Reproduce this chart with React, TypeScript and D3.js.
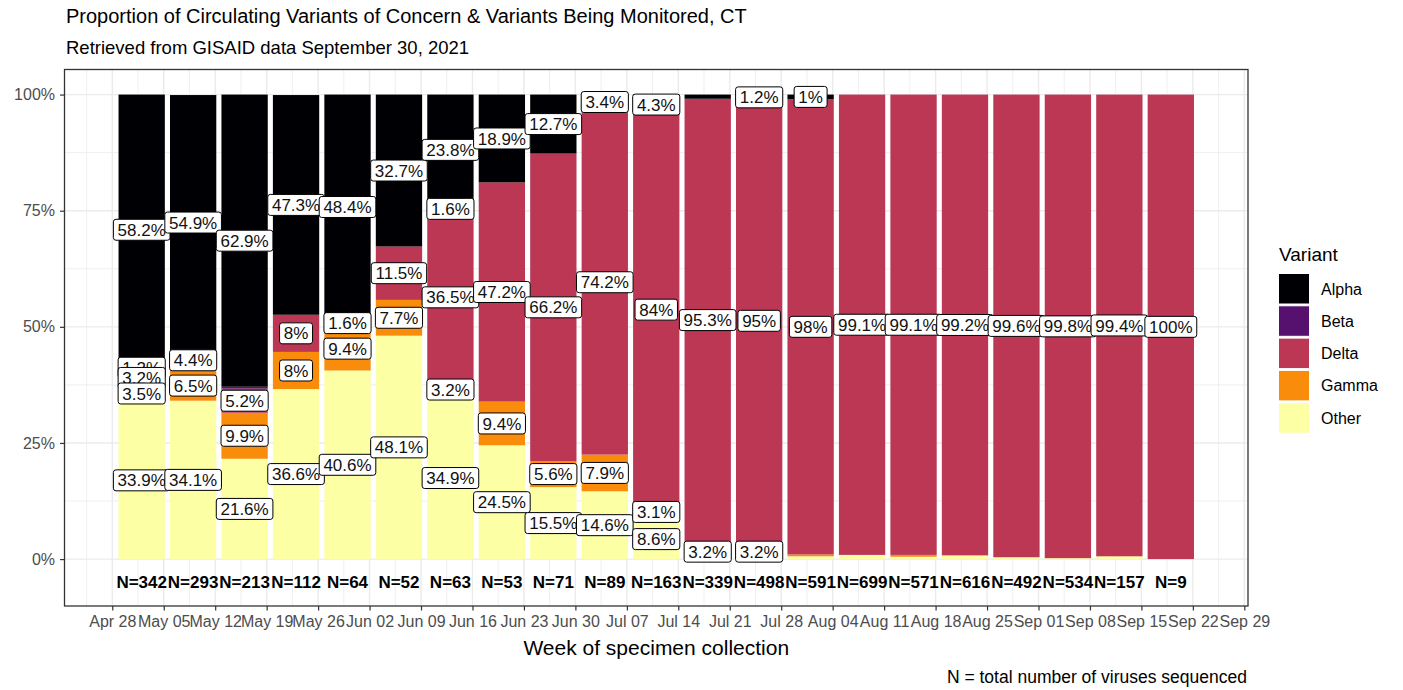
import React, { useRef, useEffect } from 'react';
import * as d3 from 'd3';

/* ─── data (percent of sequenced viruses per week) ─── */
const WEEKS = [
  '2021-05-02', '2021-05-09', '2021-05-16', '2021-05-23', '2021-05-30', '2021-06-06', '2021-06-13',
  '2021-06-20', '2021-06-27', '2021-07-04', '2021-07-11', '2021-07-18', '2021-07-25', '2021-08-01',
  '2021-08-08', '2021-08-15', '2021-08-22', '2021-08-29', '2021-09-05', '2021-09-12', '2021-09-19',
];
const N_SEQ = [342, 293, 213, 112, 64, 52, 63, 53, 71, 89, 163, 339, 498, 591, 699, 571, 616, 492, 534, 157, 9];

const ALPHA = [58.2, 54.9, 62.9, 47.3, 48.4, 32.7, 23.8, 18.9, 12.7, 3.4, 4.3, 0.9, 1.2, 1.0, 0, 0, 0, 0, 0, 0, 0];
const BETA = [1.2, 0, 0.4, 0, 0, 0, 1.6, 0, 0, 0, 0, 0, 0, 0, 0, 0, 0, 0, 0, 0, 0];
const DELTA = [3.2, 4.4, 5.2, 8.0, 1.6, 11.5, 36.5, 47.2, 66.2, 74.2, 84.0, 95.3, 95.0, 98.0, 99.1, 99.1, 99.2, 99.6, 99.8, 99.4, 100];
const GAMMA = [3.5, 6.5, 9.9, 8.0, 9.4, 7.7, 3.2, 9.4, 5.6, 7.9, 3.1, 0.6, 0.6, 0.4, 0, 0.4, 0, 0, 0, 0, 0];
const OTHER = [33.9, 34.1, 21.6, 36.6, 40.6, 48.1, 34.9, 24.5, 15.5, 14.6, 8.6, 3.2, 3.2, 0.6, 0.9, 0.5, 0.8, 0.4, 0.2, 0.6, 0];

const VARIANTS = ['Alpha', 'Beta', 'Delta', 'Gamma', 'Other'];
const SERIES: Record<string, number[]> = { Alpha: ALPHA, Beta: BETA, Delta: DELTA, Gamma: GAMMA, Other: OTHER };
// inferno(5)
const COLORS = ['#000004', '#56106E', '#BB3754', '#F98C0A', '#FCFFA4'];

const X_TICKS = [
  '2021-04-28', '2021-05-05', '2021-05-12', '2021-05-19', '2021-05-26', '2021-06-02', '2021-06-09',
  '2021-06-16', '2021-06-23', '2021-06-30', '2021-07-07', '2021-07-14', '2021-07-21', '2021-07-28',
  '2021-08-04', '2021-08-11', '2021-08-18', '2021-08-25', '2021-09-01', '2021-09-08', '2021-09-15',
  '2021-09-22', '2021-09-29',
];
const Y_TICKS = [0, 0.25, 0.5, 0.75, 1];

const FONT = "'Liberation Sans', Arial, sans-serif";
const DAY = 864e5;

export default function App() {
  const svgRef = useRef<SVGSVGElement>(null);

  useEffect(() => {
    if (!svgRef.current) return;
    const svg = d3.select(svgRef.current);
    svg.selectAll('*').remove();

    const P = { left: 64.5, right: 1248, top: 69.5, bottom: 606 };
    const parse = d3.utcParse('%Y-%m-%d');
    const weeks = WEEKS.map(d => parse(d) as Date);
    const ticks = X_TICKS.map(d => parse(d) as Date);

    const x = d3.scaleUtc()
      .domain([new Date(Date.UTC(2021, 3, 21, 12)), new Date(Date.UTC(2021, 8, 29, 12))])
      .range([P.left, P.right]);
    const y = d3.scaleLinear().domain([-0.101, 1.054]).range([P.bottom, P.top]);

    // panel background + grid
    svg.append('rect').attr('x', P.left).attr('y', P.top)
      .attr('width', P.right - P.left).attr('height', P.bottom - P.top).attr('fill', '#fff');
    const grid = svg.append('g');
    const minorX = [new Date(+ticks[0] - 3.5 * DAY), ...ticks.slice(1).map((t, i) => new Date((+t + +ticks[i]) / 2))];
    const minorY = Y_TICKS.slice(1).map((t, i) => (t + Y_TICKS[i]) / 2);
    grid.selectAll('.mx').data(minorX).join('line')
      .attr('x1', d => x(d)).attr('x2', d => x(d)).attr('y1', P.top).attr('y2', P.bottom)
      .attr('stroke', '#ebebeb').attr('stroke-width', 0.8);
    grid.selectAll('.my').data(minorY).join('line')
      .attr('x1', P.left).attr('x2', P.right).attr('y1', d => y(d)).attr('y2', d => y(d))
      .attr('stroke', '#ebebeb').attr('stroke-width', 0.8);
    grid.selectAll('.gx').data(ticks).join('line')
      .attr('x1', d => x(d)).attr('x2', d => x(d)).attr('y1', P.top).attr('y2', P.bottom)
      .attr('stroke', '#ebebeb').attr('stroke-width', 1.4);
    grid.selectAll('.gy').data(Y_TICKS).join('line')
      .attr('x1', P.left).attr('x2', P.right).attr('y1', d => y(d)).attr('y2', d => y(d))
      .attr('stroke', '#ebebeb').attr('stroke-width', 1.4);

    // stacked bars
    const rows = weeks.map((w, i) => {
      const r: any = { week: w };
      VARIANTS.forEach(v => { r[v] = SERIES[v][i] / 100; });
      return r;
    });
    const stack = d3.stack<any>().keys(['Other', 'Gamma', 'Delta', 'Beta', 'Alpha']);
    const layers = stack(rows);
    const halfW = 3.15 * DAY;
    svg.append('g').selectAll('g').data(layers).join('g')
      .attr('fill', d => COLORS[VARIANTS.indexOf(d.key)])
      .selectAll('rect').data(d => d).join('rect')
      .attr('x', d => x(new Date(+d.data.week - halfW)))
      .attr('width', d => x(new Date(+d.data.week + halfW)) - x(new Date(+d.data.week - halfW)))
      .attr('y', d => y(d[1]))
      .attr('height', d => Math.max(0, y(d[0]) - y(d[1])));

    // percentage labels (drawn week by week, variants alphabetical)
    const labels: { x: number; y: number; text: string }[] = [];
    weeks.forEach((w, i) => {
      VARIANTS.forEach(v => {
        const val = SERIES[v][i];
        if (val < 1) return;
        const layer = layers.find(l => l.key === v)!;
        const seg = layer[i];
        labels.push({ x: x(w), y: y((seg[0] + seg[1]) / 2), text: `${+val.toFixed(1)}%` });
      });
    });
    const fs = 17, pad = 4.2;
    const lg = svg.append('g');
    labels.forEach(l => {
      const g = lg.append('g');
      const rect = g.append('rect');
      const t = g.append('text').attr('x', l.x).attr('y', l.y).attr('dy', '0.36em')
        .attr('text-anchor', 'middle').attr('font-family', FONT).attr('font-size', fs)
        .attr('fill', '#111').text(l.text);
      const tw = (t.node() as SVGTextElement).getComputedTextLength();
      const bh = fs * 0.74 + 2 * pad;
      rect.attr('x', l.x - tw / 2 - pad).attr('y', l.y - bh / 2)
        .attr('width', tw + 2 * pad).attr('height', bh)
        .attr('rx', 2.6).attr('fill', '#fff').attr('stroke', '#000').attr('stroke-width', 1);
    });

    // N labels
    svg.append('g').selectAll('text').data(weeks).join('text')
      .attr('x', d => x(d)).attr('y', y(-0.05)).attr('dy', '0.36em')
      .attr('text-anchor', 'middle').attr('font-family', FONT).attr('font-size', 17)
      .attr('font-weight', 700).attr('fill', '#000')
      .text((_, i) => `N=${N_SEQ[i]}`);

    // panel border
    svg.append('rect').attr('x', P.left).attr('y', P.top)
      .attr('width', P.right - P.left).attr('height', P.bottom - P.top)
      .attr('fill', 'none').attr('stroke', '#333').attr('stroke-width', 1.3);

    // axes
    const xAxis = svg.append('g').attr('transform', `translate(0,${P.bottom})`)
      .call(d3.axisBottom(x).tickValues(ticks).tickFormat(d3.utcFormat('%b %d') as any).tickSize(4.5).tickPadding(5));
    xAxis.select('.domain').remove();
    xAxis.selectAll('line').attr('stroke', '#333').attr('stroke-width', 1.2);
    xAxis.selectAll('text').attr('fill', '#4d4d4d').attr('font-size', 16).attr('font-family', FONT);

    const yAxis = svg.append('g').attr('transform', `translate(${P.left},0)`)
      .call(d3.axisLeft(y).tickValues(Y_TICKS).tickFormat(d3.format('.0%') as any).tickSize(4.5).tickPadding(5));
    yAxis.select('.domain').remove();
    yAxis.selectAll('line').attr('stroke', '#333').attr('stroke-width', 1.2);
    yAxis.selectAll('text').attr('fill', '#4d4d4d').attr('font-size', 16).attr('font-family', FONT);

    // titles
    svg.append('text').attr('x', 66).attr('y', 23).attr('font-family', FONT).attr('font-size', 20)
      .attr('fill', '#000').text('Proportion of Circulating Variants of Concern & Variants Being Monitored, CT');
    svg.append('text').attr('x', 66).attr('y', 54).attr('font-family', FONT).attr('font-size', 18.5)
      .attr('fill', '#000').text('Retrieved from GISAID data September 30, 2021');
    svg.append('text').attr('x', (P.left + P.right) / 2).attr('y', 655).attr('text-anchor', 'middle')
      .attr('font-family', FONT).attr('font-size', 21).attr('fill', '#000').text('Week of specimen collection');
    svg.append('text').attr('x', 1247).attr('y', 683).attr('text-anchor', 'end')
      .attr('font-family', FONT).attr('font-size', 17.5).attr('fill', '#000').text('N = total number of viruses sequenced');

    // legend
    const leg = svg.append('g');
    leg.append('text').attr('x', 1279).attr('y', 261).attr('font-family', FONT).attr('font-size', 19)
      .attr('fill', '#000').text('Variant');
    VARIANTS.forEach((v, i) => {
      const ky = 273.5 + i * 32.3;
      leg.append('rect').attr('x', 1278.5).attr('y', ky).attr('width', 31).attr('height', 30.5)
        .attr('fill', COLORS[i]).attr('stroke', '#fff').attr('stroke-width', 1);
      leg.append('text').attr('x', 1321).attr('y', ky + 15.25).attr('dy', '0.36em')
        .attr('font-family', FONT).attr('font-size', 16).attr('fill', '#000').text(v);
    });
  }, []);

  return (
    <div style={{ position: 'absolute', left: 0, top: 0 }}>
      <svg ref={svgRef} width={1403} height={690} style={{ display: 'block', background: '#fff' }} />
    </div>
  );
}
